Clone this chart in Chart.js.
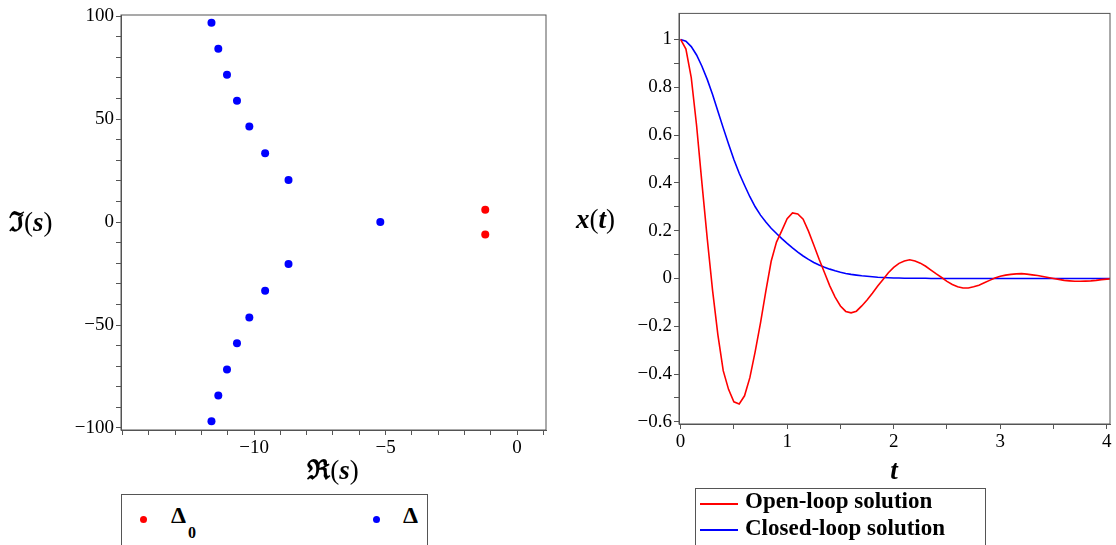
<!DOCTYPE html>
<html>
<head>
<meta charset="utf-8">
<script src="https://cdn.jsdelivr.net/npm/chart.js@4.4.1/dist/chart.umd.min.js"></script>
<style>
    body { margin: 0; background: #fff; }
    #wrap { position: relative; width: 1116px; height: 545px; overflow: hidden; background: #fff;
            font-family: "Liberation Serif", "DejaVu Serif", serif; color: #000; }
    .plot { position: absolute; top: 0; height: 480px; }
    .axTitle { position: absolute; font-size: 27px; line-height: 1; white-space: nowrap; }
    .axTitle b { font-weight: bold; }
    .legend { position: absolute; border: 1px solid #555; background: #fff; }
    .legend span { position: absolute; white-space: nowrap; font-weight: bold; }
    .dot { width: 7px; height: 7px; border-radius: 50%; }
    .seg { width: 38px; height: 2px; }
</style>
</head>
<body>
<div id="wrap">
    <div class="plot" style="left:0;width:560px"><canvas id="polesChart"></canvas></div>
    <div class="plot" style="left:560px;width:556px"><canvas id="respChart"></canvas></div>

    <div class="axTitle" style="left:9px;top:222px;transform:translateY(-50%)"><b>ℑ</b>(<b><i>s</i></b>)</div>
    <div class="axTitle" style="left:333px;top:470px;transform:translate(-50%,-50%)"><b>ℜ</b>(<b><i>s</i></b>)</div>
    <div class="axTitle" style="left:576px;top:219px;transform:translateY(-50%)"><b><i>x</i></b>(<b><i>t</i></b>)</div>
    <div class="axTitle" style="left:894px;top:470px;transform:translate(-50%,-50%)"><b><i>t</i></b></div>

    <div class="legend" style="left:121px;top:494px;width:305px;height:60px">
        <span class="dot" style="left:18px;top:21px;background:#ff0000"></span>
        <span style="left:49px;top:8px;font-size:24px;line-height:24px">Δ</span>
        <span style="left:66px;top:30px;font-size:16px;line-height:16px">0</span>
        <span class="dot" style="left:251px;top:21px;background:#0000ff"></span>
        <span style="left:281px;top:8px;font-size:24px;line-height:24px">Δ</span>
    </div>

    <div class="legend" style="left:695px;top:488px;width:289px;height:60px">
        <span class="seg" style="left:4px;top:14px;background:#ff0000"></span>
        <span style="left:49px;top:0px;font-size:23px;line-height:23px">Open-loop solution</span>
        <span class="seg" style="left:4px;top:40px;background:#0000ff"></span>
        <span style="left:49px;top:27px;font-size:23px;line-height:23px">Closed-loop solution</span>
    </div>
</div>

<script>
// ============================================
// DATOS - POLOS (plano s)
// ============================================
const delta0Re = [-1.21, -1.21];
const delta0Im = [6.0, -6.0];

const deltaRe = [-11.62, -11.36, -11.03, -10.65, -10.18, -9.58, -8.69, -5.2,
                 -8.69, -9.58, -10.18, -10.65, -11.03, -11.36, -11.62];
const deltaIm = [96.8, 84.2, 71.6, 58.9, 46.4, 33.4, 20.4, 0,
                 -20.4, -33.4, -46.4, -58.9, -71.6, -84.2, -96.8];

const polesXTicks = [-15, -14, -13, -12, -11, -10, -9, -8, -7, -6, -5, -4, -3, -2, -1, 0, 1];
const polesXLabels = [-10, -5, 0];
const polesYTicks = [-100, -90, -80, -70, -60, -50, -40, -30, -20, -10, 0, 10, 20, 30, 40, 50, 60, 70, 80, 90, 100];
const polesYLabels = [-100, -50, 0, 50, 100];

// ============================================
// DATOS - RESPUESTA x(t)
// ============================================
const tValues = [0, 0.05, 0.1, 0.15, 0.2, 0.25, 0.3, 0.35, 0.4, 0.45,
                 0.5, 0.55, 0.6, 0.65, 0.7, 0.75, 0.8, 0.85, 0.9, 0.95,
                 1, 1.05, 1.1, 1.15, 1.2, 1.25, 1.3, 1.35, 1.4, 1.45,
                 1.5, 1.55, 1.6, 1.65, 1.7, 1.75, 1.8, 1.85, 1.9, 1.95,
                 2, 2.05, 2.1, 2.15, 2.2, 2.25, 2.3, 2.35, 2.4, 2.45,
                 2.5, 2.55, 2.6, 2.65, 2.7, 2.75, 2.8, 2.85, 2.9, 2.95,
                 3, 3.05, 3.1, 3.15, 3.2, 3.25, 3.3, 3.35, 3.4, 3.45,
                 3.5, 3.55, 3.6, 3.65, 3.7, 3.75, 3.8, 3.85, 3.9, 3.95,
                 4, 4.05];

const openLoop = [1, 0.96, 0.84, 0.64, 0.40, 0.167, -0.05, -0.236, -0.386, -0.464,
                  -0.516, -0.525, -0.491, -0.415, -0.306, -0.186, -0.053, 0.072, 0.152, 0.2,
                  0.25, 0.274, 0.27, 0.248, 0.198, 0.14, 0.08, 0.025, -0.031, -0.078,
                  -0.115, -0.138, -0.144, -0.137, -0.115, -0.09, -0.062, -0.032, -0.004, 0.024,
                  0.046, 0.063, 0.073, 0.078, 0.073, 0.064, 0.051, 0.035, 0.019, 0.004,
                  -0.012, -0.025, -0.035, -0.04, -0.04, -0.035, -0.028, -0.018, -0.008, 0.002,
                  0.009, 0.014, 0.017, 0.019, 0.02, 0.018, 0.015, 0.012, 0.008, 0.004,
                  0, -0.004, -0.008, -0.01, -0.012, -0.012, -0.011, -0.01, -0.008, -0.005,
                  -0.003, -0.001];

const closedLoop = [1, 0.993, 0.97, 0.935, 0.888, 0.833, 0.77, 0.70, 0.63, 0.563,
                    0.498, 0.44, 0.39, 0.342, 0.30, 0.265, 0.236, 0.21, 0.188, 0.167,
                    0.147, 0.128, 0.11, 0.094, 0.08, 0.067, 0.056, 0.047, 0.039, 0.032,
                    0.026, 0.021, 0.017, 0.014, 0.011, 0.009, 0.007, 0.005, 0.004, 0.003,
                    0.002, 0.002, 0.001, 0.001, 0.001, 0.001, 0.001, 0, 0, 0,
                    0, 0, 0, 0, 0, 0, 0, 0, 0, 0,
                    0, 0, 0, 0, 0, 0, 0, 0, 0, 0,
                    0, 0, 0, 0, 0, 0, 0, 0, 0, 0,
                    0, 0];

const respXTicks = [0, 0.5, 1, 1.5, 2, 2.5, 3, 3.5, 4];
const respXLabels = [0, 1, 2, 3, 4];
const respYTicks = [-0.6, -0.5, -0.4, -0.3, -0.2, -0.1, 0, 0.1, 0.2, 0.3, 0.4, 0.5, 0.6, 0.7, 0.8, 0.9, 1];
const respYLabels = [-0.6, -0.4, -0.2, 0, 0.2, 0.4, 0.6, 0.8, 1];

// ============================================
// UTILIDADES
// ============================================
const AXIS_COLOR = '#555';
const SERIF = '"Liberation Serif", "Times New Roman", serif';
Chart.defaults.font.family = SERIF;
Chart.defaults.font.size = 19;
Chart.defaults.color = '#000';
const tickFont = { family: SERIF, size: 19 };
let charts = [];

function fmt(v) {
    return v < 0 ? '\u2212' + Math.abs(v) : String(v);
}

function pares(xs, ys) {
    return xs.map((x, i) => ({ x: x, y: ys[i] }));
}

function ejeLineal(min, max, ticks, labels, extra) {
    return Object.assign({
        type: 'linear',
        min: min,
        max: max,
        border: { display: true, color: AXIS_COLOR, width: 1 },
        grid: { display: true, drawOnChartArea: false, drawTicks: true, tickLength: 5, color: AXIS_COLOR },
        afterBuildTicks: (scale) => { scale.ticks = ticks.map(v => ({ value: v })); },
        ticks: {
            color: '#000',
            font: tickFont,
            padding: 2,
            autoSkip: false,
            maxRotation: 0,
            callback: (v) => labels.some(l => Math.abs(l - v) < 1e-9) ? fmt(v) : ''
        }
    }, extra);
}

// marco completo alrededor del area de trazado
const marcoPlugin = {
    id: 'marco',
    afterDraw(chart) {
        const { ctx, chartArea: a } = chart;
        ctx.save();
        ctx.strokeStyle = AXIS_COLOR;
        ctx.lineWidth = 1;
        ctx.strokeRect(a.left, a.top, a.right - a.left, a.bottom - a.top);
        ctx.restore();
    }
};

const baseOptions = {
    responsive: true,
    maintainAspectRatio: false,
    animation: false,
    plugins: { legend: { display: false }, tooltip: { enabled: false } }
};

// ============================================
// GRAFICA DE POLOS
// ============================================
function cargarPolos() {
    charts.push(new Chart(document.getElementById('polesChart'), {
        type: 'scatter',
        data: {
            datasets: [
                { label: 'Δ0', data: pares(delta0Re, delta0Im), backgroundColor: '#ff0000',
                  pointRadius: 4, borderWidth: 0 },
                { label: 'Δ', data: pares(deltaRe, deltaIm), backgroundColor: '#0000ff',
                  pointRadius: 4, borderWidth: 0 }
            ]
        },
        options: Object.assign({}, baseOptions, {
            layout: { padding: { top: 15, right: 14, left: 0, bottom: 0 } },
            scales: {
                x: ejeLineal(-15.06, 1.1, polesXTicks, polesXLabels,
                    { afterFit: (s) => { s.height = 50; } }),
                y: ejeLineal(-101, 100.6, polesYTicks, polesYLabels,
                    { afterFit: (s) => { s.width = 121; } })
            }
        }),
        plugins: [marcoPlugin]
    }));
}

// ============================================
// GRAFICA DE RESPUESTA
// ============================================
function cargarRespuesta() {
    charts.push(new Chart(document.getElementById('respChart'), {
        type: 'scatter',
        data: {
            datasets: [
                { label: 'Open-loop solution', data: pares(tValues, openLoop), showLine: true,
                  borderColor: '#ff0000', borderWidth: 1.6, pointRadius: 0, tension: 0 },
                { label: 'Closed-loop solution', data: pares(tValues, closedLoop), showLine: true,
                  borderColor: '#0000ff', borderWidth: 1.6, pointRadius: 0, tension: 0 }
            ]
        },
        options: Object.assign({}, baseOptions, {
            layout: { padding: { top: 6, right: 6, left: 0, bottom: 0 } },
            scales: {
                x: ejeLineal(-0.015, 4.03, respXTicks, respXLabels,
                    { afterFit: (s) => { s.height = 56; } }),
                y: ejeLineal(-0.609, 1.109, respYTicks, respYLabels,
                    { afterFit: (s) => { s.width = 119; } })
            }
        }),
        plugins: [marcoPlugin]
    }));
}

cargarPolos();
cargarRespuesta();
</script>
</body>
</html>
